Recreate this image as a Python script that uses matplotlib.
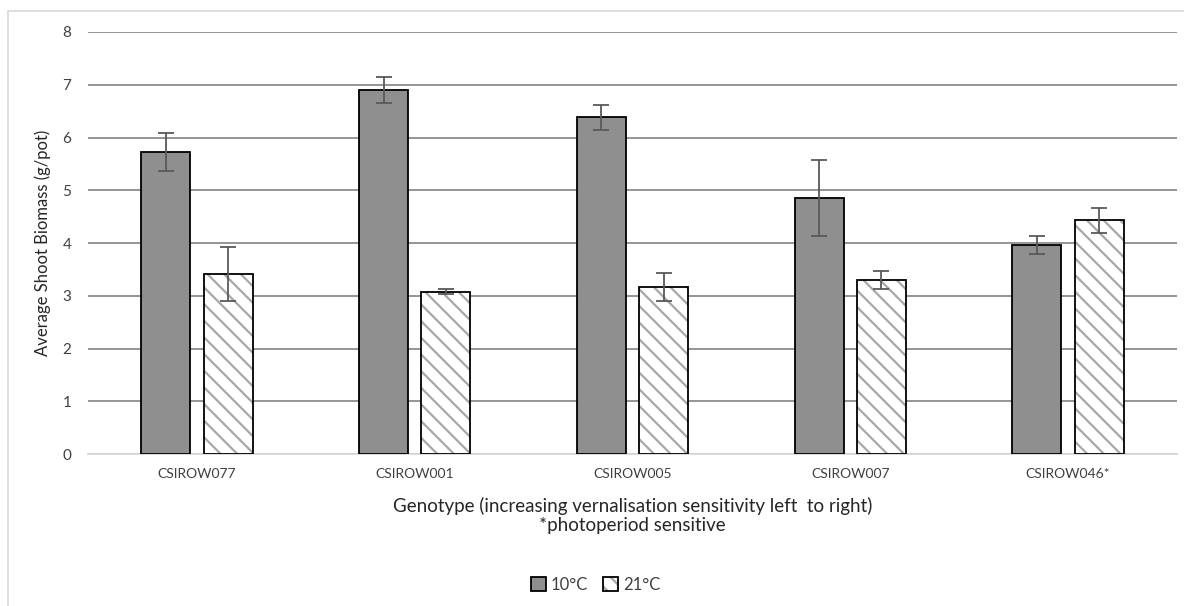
import numpy as np
import matplotlib.pyplot as plt
from matplotlib.patches import Rectangle
from matplotlib.legend_handler import HandlerTuple

plt.rcParams['font.family'] = ['Lato', 'DejaVu Sans']
plt.rcParams['hatch.linewidth'] = 1.6

# --- Data ---
genotypes = ['CSIROW077', 'CSIROW001', 'CSIROW005', 'CSIROW007', 'CSIROW046*']
biomass_10c = [5.73, 6.90, 6.38, 4.86, 3.97]
err_10c = [0.36, 0.25, 0.23, 0.72, 0.17]
biomass_21c = [3.41, 3.08, 3.17, 3.30, 4.43]
err_21c = [0.51, 0.05, 0.26, 0.17, 0.24]

fig = plt.figure(figsize=(11.84, 6.06), dpi=100)
ax = fig.add_axes([0.0743, 0.2508, 0.9198, 0.6964])

# light chart-area border like the spreadsheet export
fig.patches.append(Rectangle((8 / 1184, -0.1), 1.2, 1 - 11 / 606 + 0.1, transform=fig.transFigure,
                             fill=False, edgecolor='#d9d9d9', linewidth=1.2))

x = np.arange(len(genotypes))
w = 0.225
off = 0.143

b10 = ax.bar(x - off, biomass_10c, w, color='#8f8f8f', edgecolor='black', linewidth=1.3,
             zorder=3)
# hatch drawn in grey, then a black outline on top
b21h = ax.bar(x + off, biomass_21c, w, color='white', edgecolor='#a8a8a8', linewidth=0,
              hatch='\\\\', zorder=3)
b21o = ax.bar(x + off, biomass_21c, w, fill=False, edgecolor='black', linewidth=1.3, zorder=3)
ax.errorbar(x - off, biomass_10c, yerr=err_10c, fmt='none', ecolor='#595959',
            elinewidth=1.3, capsize=6, capthick=1.3, zorder=4)
ax.errorbar(x + off, biomass_21c, yerr=err_21c, fmt='none', ecolor='#595959',
            elinewidth=1.3, capsize=6, capthick=1.3, zorder=4)

ax.set_xlim(-0.5, len(genotypes) - 0.5)
ax.set_ylim(0, 8)
ax.set_yticks(range(0, 9))
ax.yaxis.grid(True, color='#8c8c8c', linewidth=1.3, zorder=0)
ax.set_axisbelow(True)
for s in ['top', 'right', 'left']:
    ax.spines[s].set_visible(False)
ax.spines['bottom'].set_color('#d9d9d9')
ax.spines['bottom'].set_linewidth(1.3)
ax.tick_params(axis='both', length=0, colors='#404040')
ax.tick_params(axis='y', pad=12, labelsize=11)
ax.tick_params(axis='x', pad=10, labelsize=10)
ax.set_xticks(x)
ax.set_xticklabels(genotypes)

ax.set_ylabel('Average Shoot Biomass (g/pot)', fontsize=12, color='#262626', labelpad=8)
ax.set_xlabel('Genotype (increasing vernalisation sensitivity left  to right)\n*photoperiod sensitive',
              fontsize=13.5, color='#262626', labelpad=12, linespacing=1.2)

ax.legend([b10, (b21h, b21o)], ['10°C', '21°C'], handler_map={tuple: HandlerTuple(ndivide=1, pad=0)},
          loc='upper center', bbox_to_anchor=(0.466, -0.255), ncol=2, frameon=False,
          fontsize=12, handlelength=0.9, handleheight=0.9, handletextpad=0.3,
          columnspacing=0.9, labelcolor='#404040')

fig.savefig('out.png', dpi=100)
